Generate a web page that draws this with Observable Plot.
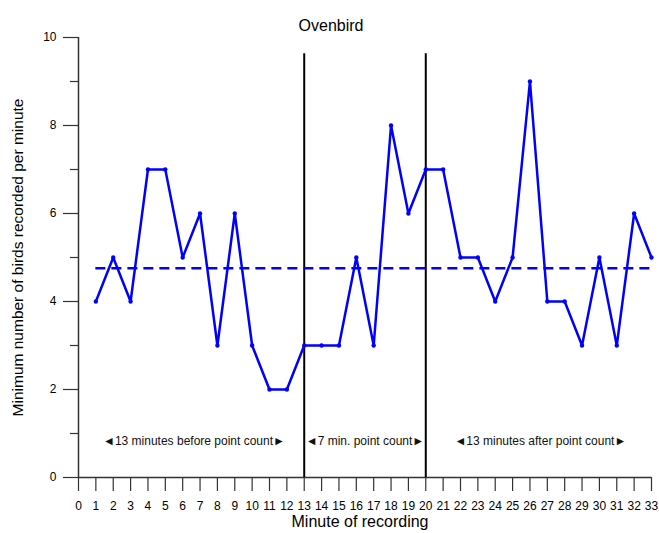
<!DOCTYPE html>
<html>
<head>
<meta charset="utf-8">
<script src="https://cdn.jsdelivr.net/npm/d3@7"></script>
<script src="https://cdn.jsdelivr.net/npm/@observablehq/plot@0.6"></script>
<style>
  html, body { margin: 0; padding: 0; background: #fff; }
</style>
</head>
<body>
<div id="chart"></div>
<script>
// Ovenbird: minimum number of birds recorded in each minute of recording
const minutes = d3.range(1, 34);
const birds = [4, 5, 4, 7, 7, 5, 6, 3, 6, 3, 2, 2, 3,
               3, 3, 5, 3, 8, 6, 7,
               7, 5, 5, 4, 5, 9, 4, 4, 3, 5, 3, 6, 5];

// Boundaries of the point-count period
const periodBounds = [13, 20];
const boundTop = 9.63;

// Period annotations
const periodLabels = ["◄13 minutes before point count►", "◄7 min. point count►", "◄13 minutes after point count►"];
const periodCenters = [6.65, 16.5, 26.6];
const periodLabelY = 0.82;

// Axis ticks
const xTicks = d3.range(0, 34);
const yMajorTicks = [0, 2, 4, 6, 8, 10];
const yMinorTicks = [1, 3, 5, 7, 9];

// Titles
const title = "Ovenbird";
const xTitle = "Minute of recording";
const yTitle = "Minimum number of birds recorded per minute";

const series = minutes.map((m, i) => ({minute: m, count: birds[i]}));
const meanCount = d3.mean(birds);
const annotations = periodLabels.map((t, i) => ({text: t, x: periodCenters[i], y: periodLabelY}));

const blue = "#0000ff";
const axisColor = "#333";

const chart = Plot.plot({
  width: 659,
  height: 533,
  marginLeft: 78,
  marginRight: 8,
  marginTop: 37,
  marginBottom: 56,
  style: {fontFamily: "'Liberation Sans', Arial, Helvetica, sans-serif", fontSize: "12px", color: "#000", background: "#fff"},
  x: {domain: [0, 33]},
  y: {domain: [0, 10]},
  marks: [
    // axes
    Plot.axisY({ticks: yMajorTicks, tickSize: 15, tickPadding: 7, stroke: axisColor, strokeWidth: 1.2, fontSize: 12, label: null}),
    Plot.axisY({ticks: yMinorTicks, tickSize: 8, text: null, label: null, stroke: axisColor, strokeWidth: 1.2}),
    Plot.axisX({ticks: xTicks, tickSize: 14, tickPadding: 10, stroke: axisColor, strokeWidth: 1.2, fontSize: 12,
      tickFormat: d => String(d), label: null}),
    Plot.ruleX([0], {stroke: axisColor, strokeWidth: 1.5}),
    Plot.ruleY([0], {stroke: axisColor, strokeWidth: 1.5}),
    // axis titles
    Plot.text([yTitle], {frameAnchor: "left", textAnchor: "middle", lineAnchor: "middle", rotate: -90, dx: -60, fontSize: 15.5, fill: "#000"}),
    Plot.text([xTitle], {frameAnchor: "bottom", lineAnchor: "middle", dx: -5, dy: 44.5, fontSize: 16, fill: "#000"}),
    // point-count boundaries
    Plot.ruleX(periodBounds, {y1: 0, y2: boundTop, stroke: "#000", strokeWidth: 2}),
    // mean of all minutes
    Plot.ruleY([meanCount], {x1: minutes[0], x2: minutes[minutes.length - 1], stroke: blue, strokeWidth: 2.5, strokeDasharray: "10,6"}),
    // per-minute counts
    Plot.line(series, {x: "minute", y: "count", stroke: blue, strokeWidth: 2.5}),
    Plot.dot(series, {x: "minute", y: "count", r: 2.2, fill: blue}),
    // period annotations
    Plot.text(annotations, {x: "x", y: "y", text: "text", fontSize: 12, fill: "#111"}),
    // title
    Plot.text([title], {frameAnchor: "top", dx: -34, dy: -18, fontSize: 16, fill: "#000"})
  ]
});

document.getElementById("chart").appendChild(chart);
</script>
</body>
</html>
